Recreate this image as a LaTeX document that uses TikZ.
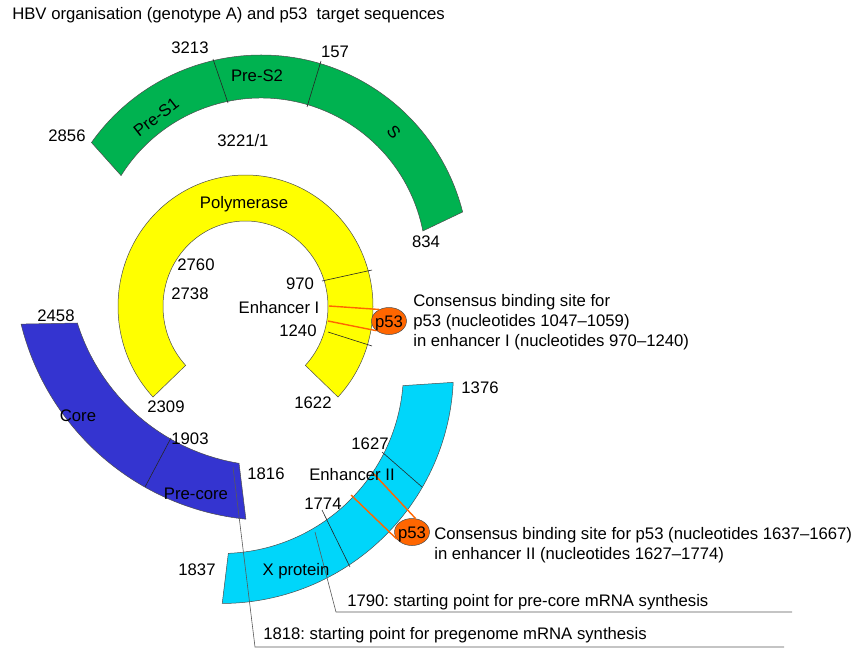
\documentclass[tikz,border=0pt]{standalone}
\usepackage{fontspec}
\setmainfont{Liberation Sans}
\usepackage{tikz}
\usetikzlibrary{calc}
\usetikzlibrary{shapes.geometric}
\definecolor{envgreen}{RGB}{0,178,80}
\definecolor{polyellow}{RGB}{255,255,0}
\definecolor{coreblue}{RGB}{52,52,208}
\definecolor{xcyan}{RGB}{0,214,250}
\definecolor{siteorange}{RGB}{255,102,0}
\frenchspacing

% one band of the genome map: style, centre, outer r, inner r,
% outer start, outer end, inner end, inner start
\newcommand{\ringband}[8]{%
  \draw[band,#1] ($(#2)+(#5:#3)$) arc[start angle=#5, end angle=#6, radius=#3pt]
     -- ($(#2)+(#7:#4)$) arc[start angle=#7, end angle=#8, radius=#4pt] -- cycle;}

\begin{document}
\begin{tikzpicture}[
            x = 1pt, y = 1pt, % one unit per pixel, y runs downwards as -y
            every node/.style = {font=\fontsize{16.7}{20}\selectfont},
            semithick
            ]

        \tikzstyle{band}=[draw = black!70, line width = 0.5pt]
        \tikzstyle{num}=[inner sep = 0pt, text height = 12pt, text depth = 0pt]
        \tikzstyle{note}=[inner sep = 0pt, align = left, anchor = north west]
        \tikzstyle{divider}=[black!85, line width = 0.6pt]
        \tikzstyle{leader}=[black!65, line width = 0.6pt]
        \tikzstyle{site}=[siteorange, line width = 1.4pt]
        \tikzstyle{pbox}=[
            ellipse,
            draw = black!70,
            line width = 0.5pt,
            fill = siteorange,
            minimum width = 35pt,
            minimum height = 27pt,
            inner xsep = -5pt, inner ysep = -2pt,
            text height = 12pt, text depth = 0pt
        ]

    \useasboundingbox (0,0) rectangle (853,-650);

	% centres of the bands
	\coordinate (G) at (261,-263);
	\coordinate (P) at (245.5,-306.5);
	\coordinate (B) at (272,-262);
	\coordinate (X) at (221,-371);

	% envelope
	\ringband{fill = envgreen}{G}{208}{165}{144.6}{14.2}{11.2}{148}
	\draw[divider] (213,-59) -- (228,-103);
	\draw[divider] (321,-61) -- (307,-107);

	% polymerase
	\draw[band, fill = polyellow] ($(P)+(-43.5:127.5 and 131.5)$)
	    arc[start angle = -43.5, end angle = 223.5, x radius = 127.5pt, y radius = 131.5pt]
	    -- ($(P)+(223.5:82.5 and 85.5)$)
	    arc[start angle = 223.5, end angle = -43.5, x radius = 82.5pt, y radius = 85.5pt] -- cycle;
	\draw[divider] (322,-281) -- (372,-270);
	\draw[divider] (328,-332) -- (372,-346);

	% core
	\ringband{fill = coreblue}{B}{258.5}{204}{193.9}{264.2}{260.7}{197.4}
	\draw[divider] (145,-487) -- (171,-438);

	% X protein
	\ringband{fill = xcyan}{X}{232.5}{182.5}{-89.7}{-2.8}{-4.6}{-87.7}
	\draw[divider] (382,-452) -- (422,-487);
	\draw[divider] (322,-510) -- (350,-567);

	% p53 sites
	\node[pbox] (p53a) at (389,-321) {p53};
	\node[pbox] (p53b) at (412,-532) {p53};
	\coordinate (e1a) at (329,-306);
	\coordinate (e1b) at (328,-321);
	\coordinate (e2a) at (373,-473);
	\coordinate (e2b) at (351,-495);
	\draw[site] (e1a) -- (p53a.130);
	\draw[site] (e1b) -- (p53a.south west);
	\draw[site] (e2a) -- (p53b.75);
	\draw[site] (e2b) -- (p53b.205);

	% transcription start points
	\coordinate (s1790) at (315,-532);
	\coordinate (k1790) at (336,-612);
	\coordinate (t1790) at (792,-612);
	\coordinate (s1818) at (233,-467);
	\coordinate (k1818) at (255,-647);
	\coordinate (t1818) at (784,-647);
	\draw[leader] (s1790) -- (k1790) -- (t1790);
	\draw[leader] (s1818) -- (k1818) -- (t1818);

	% labels
	\node[num, anchor = west] (title) at (12,-14) {HBV organisation (genotype A) and p53\ \ target sequences};
	\node[num] (n3213) at (190,-48) {3213};
	\node[num] (n157) at (335,-52) {157};
	\node[num] (n2856) at (67,-135) {2856};
	\node[num] (preS2) at (257,-76) {Pre-S2};
	\node[num, rotate = 38] (preS1) at (156,-117) {Pre-S1};
	\node[num, rotate = -50] (sgene) at (394,-132) {S};
	\node[num] (n3221) at (243,-140) {3221/1};
	\node[num] (n834) at (426,-241) {834};
	\node[num] (pol) at (244,-202) {Polymerase};
	\node[num] (n2760) at (196,-264) {2760};
	\node[num] (n2738) at (190,-293) {2738};
	\node[num] (n970) at (300,-283) {970};
	\node[num] (enh1) at (279,-307) {Enhancer I};
	\node[num] (n1240) at (298,-330) {1240};
	\node[num] (n2309) at (166,-406) {2309};
	\node[num] (n1622) at (313,-402) {1622};
	\node[num] (n2458) at (56,-315) {2458};
	\node[num] (core) at (78,-415) {Core};
	\node[num] (n1903) at (190,-438) {1903};
	\node[num] (precore) at (196,-493) {Pre-core};
	\node[num] (n1816) at (266,-473) {1816};
	\node[num] (n1376) at (480,-387) {1376};
	\node[num] (n1627) at (370,-443) {1627};
	\node[num] (enh2) at (352,-474) {Enhancer II};
	\node[num] (n1774) at (323,-503) {1774};
	\node[num] (n1837) at (197,-569) {1837};
	\node[num] (xprot) at (296,-569) {X protein};
	\node[num, anchor = west] (l1790) at (347,-600) {1790: starting point for pre-core mRNA synthesis};
	\node[num, anchor = west] (l1818) at (263,-633) {1818: starting point for pregenome mRNA synthesis};

	% binding site notes
	\node[note] (site1) at (413,-294) {Consensus binding site for\\p53 (nucleotides 1047--1059)\\in enhancer I (nucleotides 970--1240)};
	\node[note] (site2) at (434,-527) {Consensus binding site for p53 (nucleotides 1637--1667)\\in enhancer II (nucleotides 1627--1774)};

\end{tikzpicture}
\end{document}
